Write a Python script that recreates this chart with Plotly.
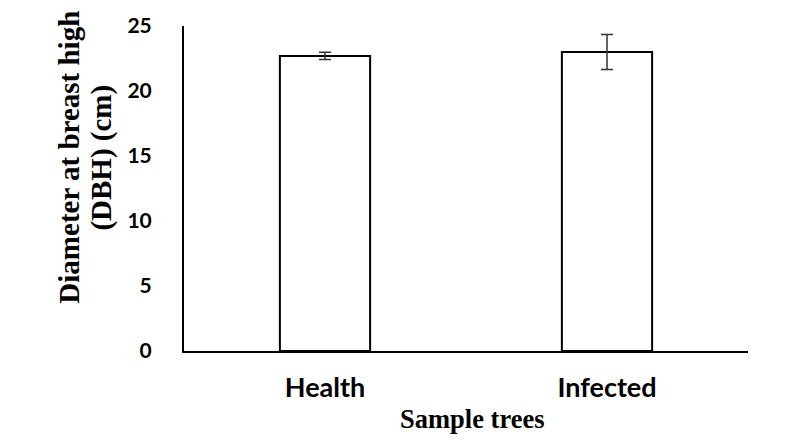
import plotly.graph_objects as go

categories = ["Health", "Infected"]
dbh_mean = [22.7, 23.0]
dbh_err = [0.28, 1.35]
y_ticks = [0, 5, 10, 15, 20, 25]

fig = go.Figure()
fig.add_trace(go.Bar(
    x=categories, y=dbh_mean,
    width=0.32,
    marker=dict(color="white", line=dict(color="black", width=2)),
    error_y=dict(type="data", array=dbh_err, visible=True, color="#333333", thickness=1.5, width=6),
))

ytick_font = dict(family="Lato", size=21, color="black", weight="bold")
xtick_font = dict(family="Lato", size=27, color="black", weight="bold")
ytitle_font = dict(family="Liberation Serif", size=29, color="black", weight="bold")
xtitle_font = dict(family="Liberation Serif", size=26.5, color="black", weight="bold")

fig.update_layout(
    width=806, height=443,
    margin=dict(l=184, r=58, t=20, b=92),
    plot_bgcolor="white", paper_bgcolor="white",
    showlegend=False,
    xaxis=dict(
        showline=True, linecolor="black", linewidth=2,
        ticks="", tickfont=xtick_font, ticklabelstandoff=12,
        showgrid=False, zeroline=False,
    ),
    yaxis=dict(
        range=[0, 25], tickvals=y_ticks,
        showline=True, linecolor="black", linewidth=2,
        ticks="", tickfont=ytick_font, ticklabelstandoff=26,
        showgrid=False, zeroline=False,
    ),
    annotations=[
        dict(text="Diameter at breast high", textangle=-90,
             xref="paper", yref="paper", x=-0.2039, y=0.595,
             xanchor="center", yanchor="middle", showarrow=False, font=ytitle_font),
        dict(text="(DBH) (cm)", textangle=-90,
             xref="paper", yref="paper", x=-0.1454, y=0.595,
             xanchor="center", yanchor="middle", showarrow=False, font=ytitle_font),
        dict(text="Sample trees",
             xref="paper", yref="paper", x=0.512, y=-0.2085,
             xanchor="center", yanchor="middle", showarrow=False, font=xtitle_font),
    ],
)

fig.write_html("out.html")
